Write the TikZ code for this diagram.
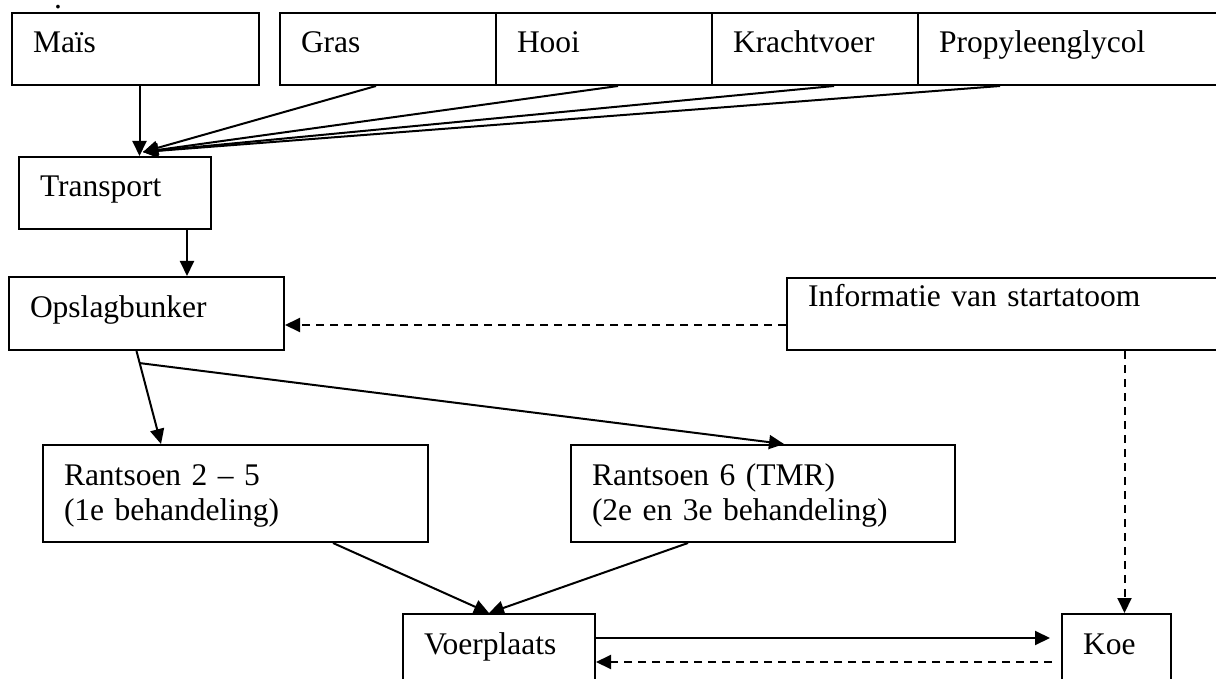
\documentclass[tikz,border=0pt]{standalone}
\usepackage{fontspec}
\setmainfont{Liberation Serif}
\usetikzlibrary{arrows.meta}
\begin{document}
\begin{tikzpicture}[x=1pt,y=-1pt,
    font=\fontsize{31.5pt}{35pt}\selectfont,
    >={Triangle[length=15pt,width=14pt]},
    blok/.style={draw,line width=2pt,anchor=north west,align=left,
                 inner xsep=21pt,inner ysep=0pt,text height=40pt},
    lijn/.style={line width=2pt},
    stippel/.style={line width=2pt,dash pattern=on 8pt off 6pt}]
  \useasboundingbox (0,0) rectangle (1216,679);
  \node[anchor=base,inner sep=0pt] (punt) at (58,9) {.};
  % grondstoffen
  \node[blok,text width=205pt,text depth=32pt] (mais) at (11,12) {Maïs};
  \node[blok,text width=174pt,text depth=32pt] (gras) at (279,12) {Gras};
  \node[blok,text width=174pt,text depth=32pt] (hooi) at (495,12) {Hooi};
  \node[blok,text width=164pt,text depth=32pt] (kracht) at (711,12) {Krachtvoer};
  \node[blok,text width=268pt,text depth=32pt] (propyl) at (917,12) {Propyleenglycol};
  % keten
  \node[blok,text width=150pt,text depth=32pt] (transport) at (18,156) {Transport};
  \node[blok,text width=233pt,text depth=33pt] (opslag) at (8,276) {Opslagbunker};
  \node[blok,text width=398pt,text height=28pt,text depth=44pt] (info) at (786,277)
    {Informatie van startatoom};
  \node[blok,text width=343pt,text depth=57pt] (rant1) at (42,444)
    {Rantsoen 2 – 5\\(1e behandeling)};
  \node[blok,text width=342pt,text depth=57pt] (rant6) at (570,444)
    {Rantsoen 6 (TMR)\\(2e en 3e behandeling)};
  \node[blok,text width=150pt,text depth=32pt] (voer) at (402,613) {Voerplaats};
  \node[blok,text width=67pt,text depth=32pt] (koe) at (1061,613) {Koe};

  \coordinate (invoer) at ([xshift=28pt,yshift=4pt]transport.north);
  \coordinate (koein) at ([xshift=8pt]koe.north);
  \coordinate (voerin) at ([xshift=-10pt]voer.north);

  \draw[lijn,->] ([xshift=4pt]mais.south) -- ([xshift=4pt]mais.south |- transport.north);
  \draw[lijn,->] ([xshift=-12pt]gras.south) -- (invoer);
  \draw[lijn,->] ([xshift=14pt]hooi.south) -- (invoer);
  \draw[lijn,->] ([xshift=19pt]kracht.south) -- (invoer);
  \draw[lijn,->] ([xshift=83pt]propyl.south west) -- (invoer);
  \draw[lijn,->] ([xshift=72pt]transport.south) -- ([xshift=72pt]transport.south |- opslag.north);
  \draw[stippel,->] ([yshift=-11pt]info.west) -- ([yshift=-11pt]info.west -| opslag.east);
  \draw[stippel,->] (koein |- info.south) -- (koein);
  \draw[lijn,->] ([xshift=-10pt]opslag.south) -- coordinate[pos=0.13] (tak)
    ([xshift=119pt]rant1.north west);
  \draw[lijn,->] (tak) -- ([xshift=21pt]rant6.north);
  \draw[lijn,->] ([xshift=291pt]rant1.south west) -- (voerin);
  \draw[lijn,->] ([xshift=-75pt]rant6.south) -- (voerin);
  \draw[lijn,->,shorten >=11pt] ([yshift=12pt]voer.east) -- ([yshift=12pt]voer.east -| koe.west);
  \draw[stippel,->,shorten <=9pt] ([yshift=-12pt]koe.west) -- ([yshift=-12pt]koe.west -| voer.east);
\end{tikzpicture}
\end{document}
